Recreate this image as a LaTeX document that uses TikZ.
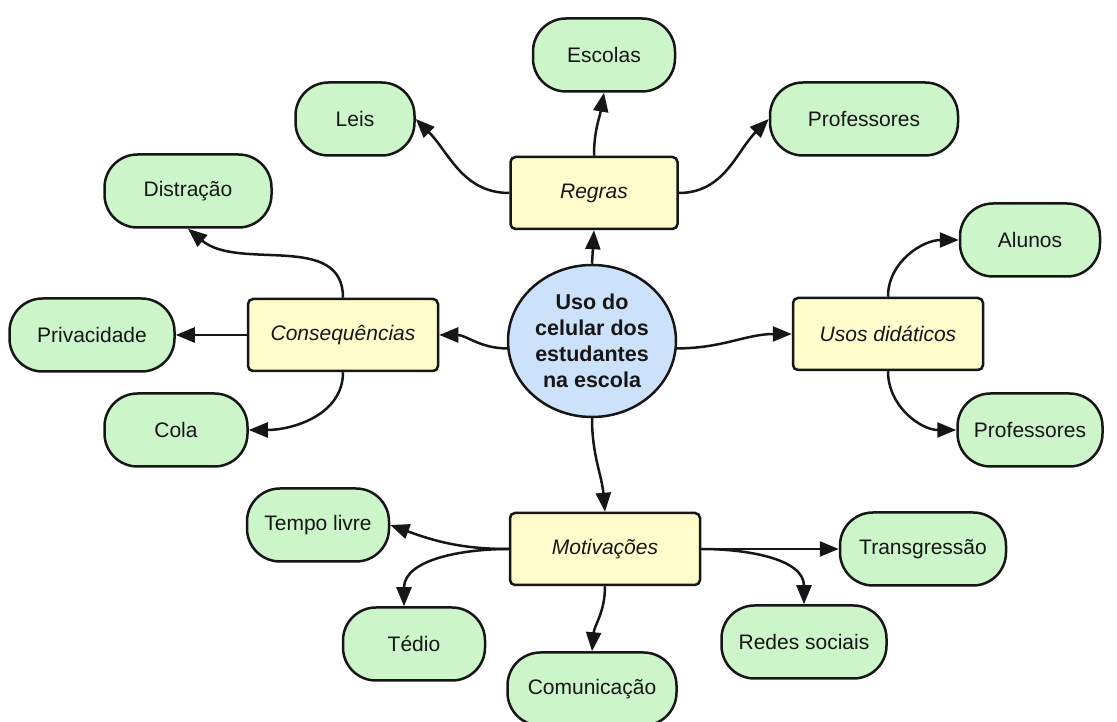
\documentclass[tikz,border=0pt]{standalone}
\usepackage{fontspec}
\setmainfont{Liberation Sans}
\usetikzlibrary{arrows.meta,shapes.geometric}
\definecolor{gfill}{RGB}{204,245,202}
\definecolor{yfill}{RGB}{255,253,204}
\definecolor{bfill}{RGB}{204,226,250}
\definecolor{ink}{RGB}{22,22,22}
\begin{document}
\begin{tikzpicture}[x=1pt,y=1pt,
 leaf/.style={draw=ink, line width=2.5pt, fill=gfill, rounded corners=33pt, minimum height=73pt, inner sep=0pt, font=\fontsize{21}{25}\selectfont, text=ink},
 topic/.style={draw=ink, line width=2.5pt, fill=yfill, rounded corners=5pt, minimum height=72pt, inner sep=0pt, font=\fontsize{21}{25}\selectfont\itshape, text=ink},
 hub/.style={ellipse, draw=ink, line width=2.5pt, fill=bfill, minimum width=168pt, minimum height=152pt, inner sep=0pt, align=center, font=\fontsize{21.5}{26}\selectfont\bfseries, text=ink},
 link/.style={draw=ink, line width=2.5pt, -{Triangle[length=19pt,width=15pt]}},
]
\useasboundingbox[fill=white] (0,0) rectangle (1117,722);
% hub
\node[hub] (hub) at (592,381) {Uso do\\celular dos\\estudantes\\na escola};
% topics
\node[topic, minimum width=167pt] (regras) at (594,529) {Regras};
\node[topic, minimum width=190pt] (cons) at (343,387) {Consequências};
\node[topic, minimum width=190pt] (usos) at (888,388) {Usos didáticos};
\node[topic, minimum width=190pt] (mot) at (605,173) {Motivações};
% leaves
\node[leaf, minimum width=142pt] (escolas) at (604,667) {Escolas};
\node[leaf, minimum width=119pt] (leis) at (355,603) {Leis};
\node[leaf, minimum width=188pt] (prof1) at (864,603) {Professores};
\node[leaf, minimum width=167pt] (distr) at (188,531) {Distração};
\node[leaf, minimum width=140pt] (alunos) at (1030,482) {Alunos};
\node[leaf, minimum width=165pt] (priv) at (92,387) {Privacidade};
\node[leaf, minimum width=143pt] (cola) at (176,292) {Cola};
\node[leaf, minimum width=145pt] (prof2) at (1030,292) {Professores};
\node[leaf, minimum width=142pt] (tempo) at (318,197) {Tempo livre};
\node[leaf, minimum width=166pt] (trans) at (923,173) {Transgressão};
\node[leaf, minimum width=142pt] (tedio) at (414,78) {Tédio};
\node[leaf, minimum width=165pt] (redes) at (804,80) {Redes sociais};
\node[leaf, minimum width=169pt] (com) at (592,33) {Comunicação};
% connectors
\draw[link] (hub.north) -- (regras.south);
\draw[link] (regras.north) to[out=90,in=-100] (escolas.south);
\draw[link] (regras.west) to[out=180,in=-45] (leis.east);
\draw[link] (regras.east) to[out=0,in=-135] (prof1.west);
\draw[link] (hub.185) to[out=180,in=0] (cons.east);
\draw[link] (cons.north) to[out=90,in=-40] (distr.south);
\draw[link] (cons.west) -- (priv.east);
\draw[link] (cons.south) to[out=-90,in=0] (cola.east);
\draw[link] (hub.-5) to[out=0,in=180] (usos.west);
\draw[link] (usos.north) to[out=90,in=180] (alunos.west);
\draw[link] (usos.south) to[out=-90,in=180] (prof2.west);
\draw[link] (hub.south) to[out=-90,in=95] (mot.north);
\draw[link] (mot.west) to[out=180,in=-20] (tempo.east);
\draw[link] (mot.west) to[out=180,in=90] ([xshift=-10pt]tedio.north);
\draw[link] (mot.south) to[out=-90,in=85] (com.north);
\draw[link] (mot.east) -- (trans.west);
\draw[link] (mot.east) to[out=0,in=90] (redes.north);
\end{tikzpicture}
\end{document}
